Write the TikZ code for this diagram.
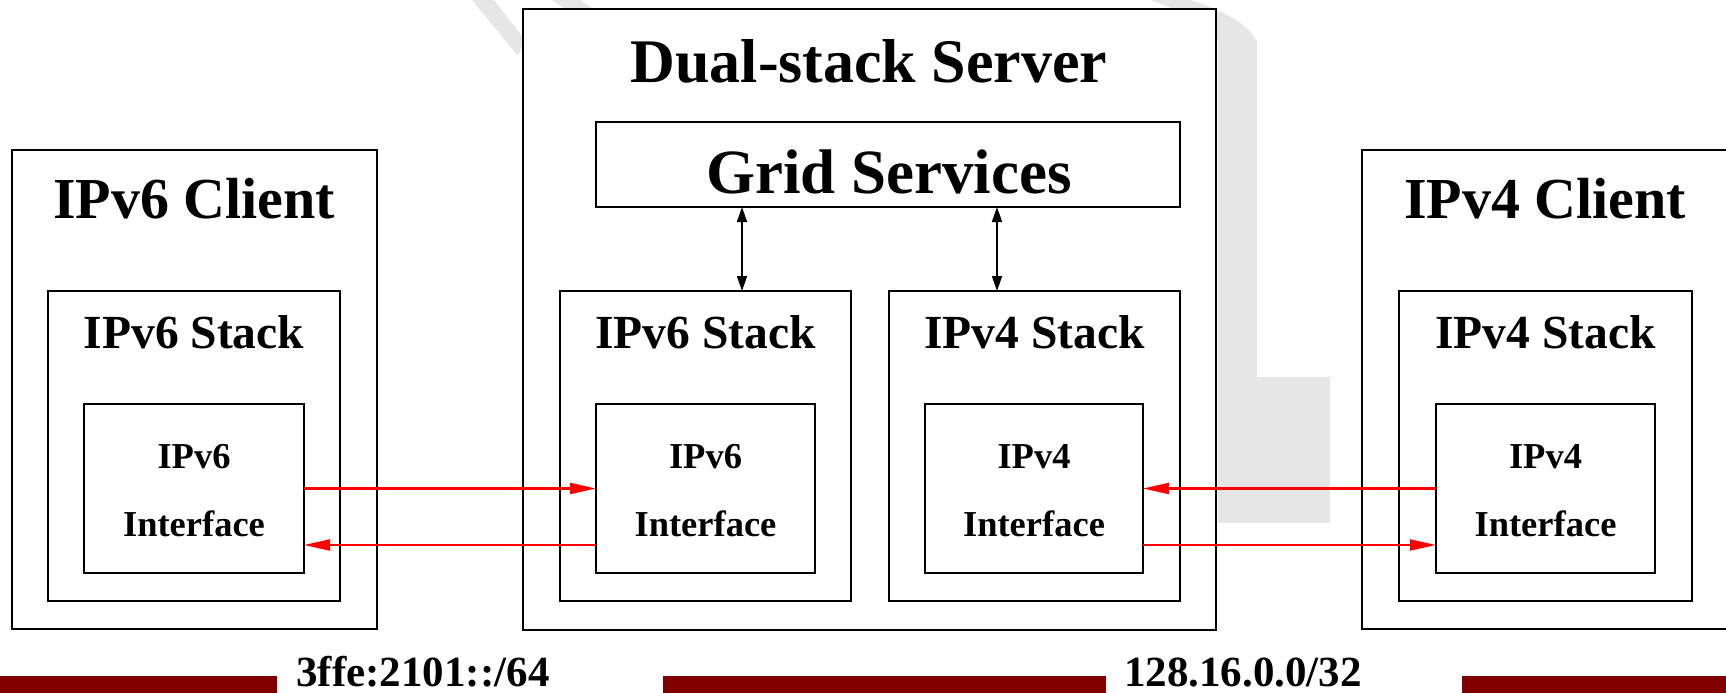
\documentclass[tikz,border=0pt]{standalone}
\usepackage{fontspec}
\setmainfont{Liberation Serif}
\usetikzlibrary{arrows.meta,calc}
\definecolor{wmgray}{RGB}{230,230,230}
\definecolor{barred}{RGB}{128,0,0}
\tikzset{
  box/.style={draw=black, fill=white, line width=2pt, inner sep=0pt, outer sep=0pt, rectangle},
  bigtxt/.style={anchor=base, inner sep=0pt, font=\fontsize{58}{60}\selectfont\bfseries},
  srvtxt/.style={anchor=base, inner sep=0pt, font=\fontsize{62}{64}\selectfont\bfseries},
  stacktxt/.style={anchor=base, inner sep=0pt, font=\fontsize{47.5}{50}\selectfont\bfseries},
  ifacetxt/.style={anchor=base, inner sep=0pt, font=\fontsize{36.5}{38}\selectfont\bfseries},
  nettxt/.style={anchor=base, inner sep=0pt, font=\fontsize{43}{45}\selectfont\bfseries},
  redarrow/.style={draw=red, line width=2.2pt, -{Triangle[length=26pt,width=11pt]}},
  blkarrow/.style={draw=black, line width=1.8pt, {Triangle[length=15pt,width=10pt]}-{Triangle[length=15pt,width=10pt]}},
  wm/.style={fill=wmgray},
  bar/.style={fill=barred}
}
\begin{document}
\begin{tikzpicture}[x=1pt,y=-1pt]
\useasboundingbox (0,0) rectangle (1726,693);
\fill[white] (0,0) rectangle (1726,693);
% watermark (background logo, mostly hidden)
\fill[wm] (1218,40) rectangle (1257,380);
\fill[wm] (1218,377) rectangle (1330,523);
\fill[wm] (1150,0) -- (1190,0) .. controls (1230,12) and (1255,30) .. (1257,45) -- (1228,60) .. controls (1220,35) and (1195,15) .. cycle;
\fill[wm] (472,0) -- (494,0) -- (525,40) -- (518,56) -- cycle;
\fill[wm] (552,0) -- (580,0) -- (597,12) -- (583,22) -- cycle;
% bottom bars
\fill[bar] (0,676) rectangle (277,693);
\fill[bar] (663,676) rectangle (1106,693);
\fill[bar] (1462,676) rectangle (1726,693);
% IPv6 client
\node[box, minimum width=365pt, minimum height=479pt] (c6) at (194.5,389.5) {};
\node[box, minimum width=292pt, minimum height=310pt] (c6s) at (194,446) {};
\node[box, minimum width=220pt, minimum height=169pt] (c6i) at (194,488.5) {};
% server
\node[box, minimum width=693pt, minimum height=621pt] (srv) at (869.5,319.5) {};
\node[box, minimum width=584pt, minimum height=85pt] (grid) at (888,164.5) {};
\node[box, minimum width=291pt, minimum height=310pt] (s6s) at (705.5,446) {};
\node[box, minimum width=291pt, minimum height=310pt] (s4s) at (1034.5,446) {};
\node[box, minimum width=219pt, minimum height=169pt] (s6i) at (705.5,488.5) {};
\node[box, minimum width=218pt, minimum height=169pt] (s4i) at (1034,488.5) {};
% IPv4 client
\node[box, minimum width=366pt, minimum height=479pt] (c4) at (1545,389.5) {};
\node[box, minimum width=293pt, minimum height=310pt] (c4s) at (1545.5,446) {};
\node[box, minimum width=219pt, minimum height=169pt] (c4i) at (1545.5,488.5) {};
% texts
\node[bigtxt] (c6t) at (194,218) {IPv6 Client};
\node[bigtxt] (c4t) at (1545,218) {IPv4 Client};
\node[srvtxt] (srvt) at (869,82) {Dual-stack Server};
\node[srvtxt, font=\fontsize{63}{65}\selectfont\bfseries] (gridt) at (889,193) {Grid Services};
\node[stacktxt] (c6st) at (194,348) {IPv6 Stack};
\node[stacktxt] (s6st) at (705.5,348) {IPv6 Stack};
\node[stacktxt] (s4st) at (1034.5,348) {IPv4 Stack};
\node[stacktxt] (c4st) at (1545.5,348) {IPv4 Stack};
\node[ifacetxt] (c6ia) at (194,468) {IPv6};
\node[ifacetxt] (c6ib) at (194,536) {Interface};
\node[ifacetxt] (s6ia) at (705.5,468) {IPv6};
\node[ifacetxt] (s6ib) at (705.5,536) {Interface};
\node[ifacetxt] (s4ia) at (1034,468) {IPv4};
\node[ifacetxt] (s4ib) at (1034,536) {Interface};
\node[ifacetxt] (c4ia) at (1545.5,468) {IPv4};
\node[ifacetxt] (c4ib) at (1545.5,536) {Interface};
\node[nettxt] (net6) at (423,686) {3ffe:2101::/64};
\node[nettxt] (net4) at (1243,686) {128.16.0.0/32};
% connectors
\coordinate (a1) at (742,0);
\coordinate (a2) at (997,0);
\draw[blkarrow] (grid.south -| a1) -- (s6s.north -| a1);
\draw[blkarrow] (grid.south -| a2) -- (s4s.north -| a2);
\draw[redarrow] (c6i.east) -- (s6i.west);
\draw[redarrow] ([yshift=-56.5pt]s6i.west) -- ([yshift=-56.5pt]c6i.east);
\draw[redarrow] (c4i.west) -- (s4i.east);
\draw[redarrow] ([yshift=-56.5pt]s4i.east) -- ([yshift=-56.5pt]c4i.west);
\end{tikzpicture}
\end{document}
